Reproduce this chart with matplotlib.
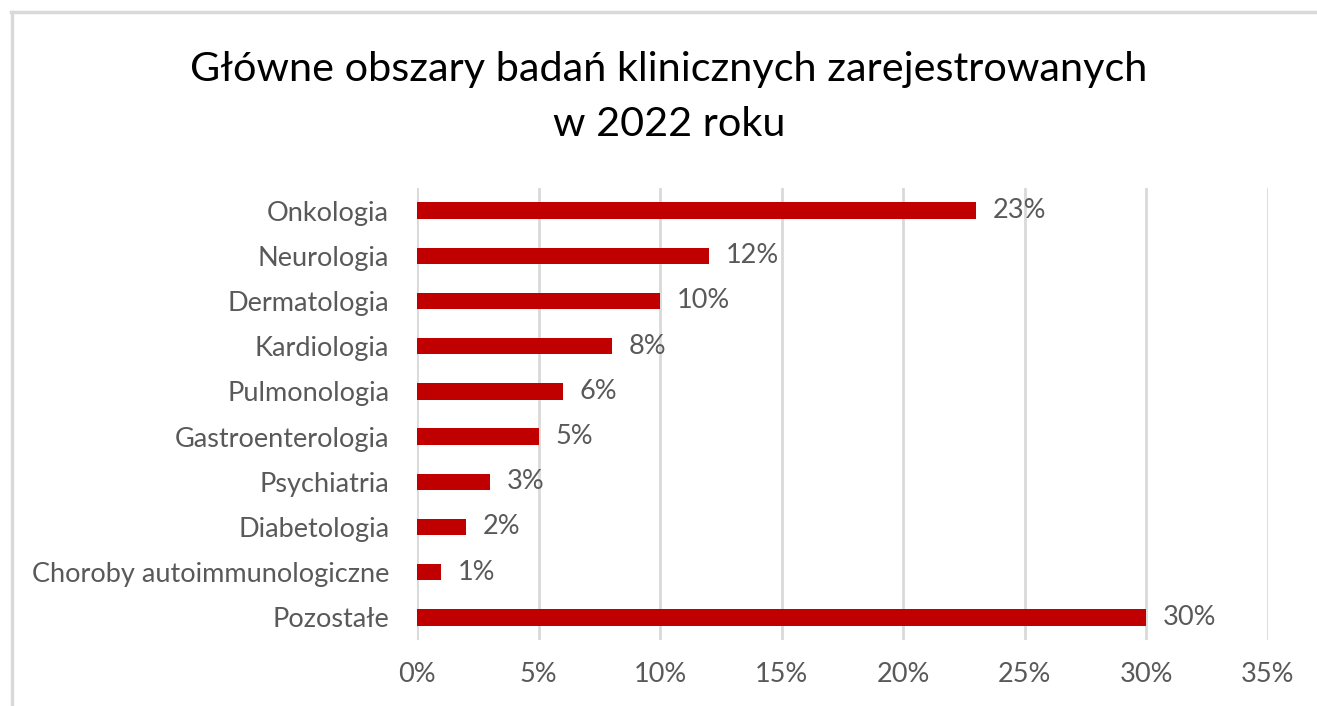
import matplotlib
matplotlib.use("Agg")
import matplotlib.pyplot as plt
from matplotlib.lines import Line2D

categories = ["Onkologia", "Neurologia", "Dermatologia", "Kardiologia", "Pulmonologia",
              "Gastroenterologia", "Psychiatria", "Diabetologia",
              "Choroby autoimmunologiczne", "Pozostałe"]
values = [23, 12, 10, 8, 6, 5, 3, 2, 1, 30]
xticks = [0, 5, 10, 15, 20, 25, 30, 35]
xtick_labels = [f"{t}%" for t in xticks]
title = "Główne obszary badań klinicznych zarejestrowanych\nw 2022 roku"

plt.rcParams['font.family'] = ['Lato', 'DejaVu Sans']

W, H = 1317, 706
fig = plt.figure(figsize=(W/100, H/100), dpi=100)
ax = fig.add_axes([417/W, 1-640/H, (1268-417)/W, (640-188)/H])

y = list(range(len(categories)))
ax.barh(y, values, height=0.36, color="#C00000", zorder=3)
ax.set_ylim(len(categories)-0.5, -0.5)
ax.set_xlim(0, 35)
ax.set_xticks(xticks)
ax.set_xticklabels(xtick_labels)
ax.set_yticks(y)
ax.set_yticklabels(categories)
ax.tick_params(axis='both', length=0, labelsize=19.5, labelcolor="#595959")
ax.tick_params(axis='y', pad=20)
ax.tick_params(axis='x', pad=16)
ax.grid(axis='x', color="#D9D9D9", linewidth=2, zorder=0)
for s in ax.spines.values():
    s.set_visible(False)

for yi, v in zip(y, values):
    ax.annotate(f"{v}%", (v, yi), xytext=(12, 0), textcoords="offset points",
                va="center", ha="left", fontsize=19.5, color="#595959")

fig.text(669/W, 1-97/H, title, ha="center", va="center", fontsize=29.8,
         color="#000000", linespacing=1.58)

fig.add_artist(Line2D([11/W, 1.0], [1-12/H, 1-12/H], transform=fig.transFigure,
                      color="#D9D9D9", linewidth=2.5))
fig.add_artist(Line2D([12/W, 12/W], [1-12/H, 0], transform=fig.transFigure,
                      color="#D9D9D9", linewidth=2.5))

fig.savefig("out.png", dpi=100, facecolor="white")
